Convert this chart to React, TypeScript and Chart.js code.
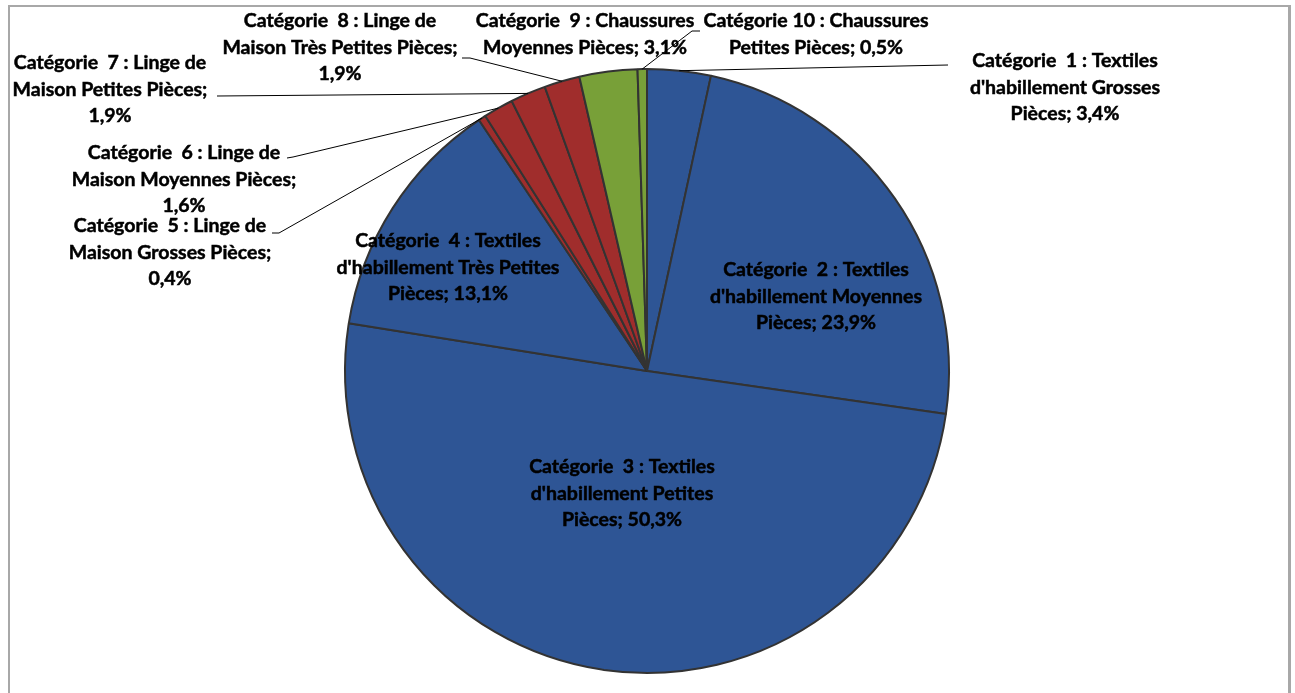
import React, { useEffect, useRef } from "react";
import { Chart, registerables } from "chart.js";

Chart.register(...registerables);

// ---- Data ----
const categories = [
  "Catégorie 1 : Textiles d'habillement Grosses Pièces",
  "Catégorie 2 : Textiles d'habillement Moyennes Pièces",
  "Catégorie 3 : Textiles d'habillement Petites Pièces",
  "Catégorie 4 : Textiles d'habillement Très Petites Pièces",
  "Catégorie 5 : Linge de Maison Grosses Pièces",
  "Catégorie 6 : Linge de Maison Moyennes Pièces",
  "Catégorie 7 : Linge de Maison Petites Pièces",
  "Catégorie 8 : Linge de Maison Très Petites Pièces",
  "Catégorie 9 : Chaussures Moyennes Pièces",
  "Catégorie 10 : Chaussures Petites Pièces",
];
const values = [3.4, 23.9, 50.3, 13.1, 0.4, 1.6, 1.9, 1.9, 3.1, 0.5];

// label text, broken into lines as in the reference ({p} = percentage)
const labelLines = [
  ["Catégorie  1 : Textiles", "d'habillement Grosses", "Pièces; {p}"],
  ["Catégorie  2 : Textiles", "d'habillement Moyennes", "Pièces; {p}"],
  ["Catégorie  3 : Textiles", "d'habillement Petites", "Pièces; {p}"],
  ["Catégorie  4 : Textiles", "d'habillement Très Petites", "Pièces; {p}"],
  ["Catégorie  5 : Linge de", "Maison Grosses Pièces;", "{p}"],
  ["Catégorie  6 : Linge de", "Maison Moyennes Pièces;", "{p}"],
  ["Catégorie  7 : Linge de", "Maison Petites Pièces;", "{p}"],
  ["Catégorie  8 : Linge de", "Maison Très Petites Pièces;", "{p}"],
  ["Catégorie  9 : Chaussures", "Moyennes Pièces; {p}"],
  ["Catégorie 10 : Chaussures", "Petites Pièces; {p}"],
];

// ---- Layout / style (page pixel coordinates) ----
const BLUE = "#2E5595";
const RED = "#A02D2C";
const GREEN = "#78A038";
const sliceColors = [BLUE, BLUE, BLUE, BLUE, RED, RED, RED, RED, GREEN, GREEN];

// label centre x and first-line centre y
const labelPos = [
  [1065, 61],
  [816, 270],
  [622, 467],
  [448, 241],
  [170, 226],
  [184, 153],
  [110, 63],
  [340, 21],
  [585, 21],
  [816, 21],
];
// leader line points from the label side (then joined to the slice edge)
const leaders: (number[][] | null)[] = [
  [[948, 65]],
  null,
  null,
  null,
  [[272, 233], [279, 233]],
  [[287, 158], [293, 157]],
  [[217, 96]],
  [[462, 58], [470, 58]],
  null,
  [[700, 31], [692, 31]],
];
const LINE_H = 26.5;
const FONT = "bold 19.5px Lato";

const fmt = (v: number) => v.toFixed(1).replace(".", ",") + "%";

const labelPlugin = {
  id: "labelPlugin",
  afterDatasetsDraw(chart: any) {
    const ctx = chart.ctx;
    const meta = chart.getDatasetMeta(0);
    ctx.save();
    // leader lines
    ctx.strokeStyle = "#000";
    ctx.lineWidth = 1;
    meta.data.forEach((arc: any, i: number) => {
      const pts = leaders[i];
      if (!pts) return;
      const mid = (arc.startAngle + arc.endAngle) / 2;
      const ex = arc.x + Math.cos(mid) * arc.outerRadius;
      const ey = arc.y + Math.sin(mid) * arc.outerRadius;
      ctx.beginPath();
      ctx.moveTo(pts[0][0], pts[0][1]);
      for (let k = 1; k < pts.length; k++) ctx.lineTo(pts[k][0], pts[k][1]);
      ctx.lineTo(ex, ey);
      ctx.stroke();
    });
    // labels
    ctx.font = FONT;
    ctx.fillStyle = "#000";
    ctx.strokeStyle = "#000";
    ctx.lineWidth = 0.5;
    ctx.textAlign = "center";
    ctx.textBaseline = "middle";
    labelLines.forEach((lines, i) => {
      const [cx, cy] = labelPos[i];
      lines.forEach((t, k) => {
        const s = t.replace("{p}", fmt(values[i]));
        ctx.fillText(s, cx, cy + k * LINE_H);
        ctx.strokeText(s, cx, cy + k * LINE_H);
      });
    });
    ctx.restore();
  },
};

export default function App() {
  const ref = useRef<HTMLCanvasElement | null>(null);
  useEffect(() => {
    if (!ref.current) return;
    const chart = new Chart(ref.current, {
      type: "pie",
      data: {
        labels: categories,
        datasets: [
          {
            data: values,
            backgroundColor: sliceColors,
            borderColor: "#333333",
            borderWidth: 2,
            hoverOffset: 0,
          },
        ],
      },
      options: {
        responsive: false,
        animation: false,
        devicePixelRatio: 1,
        radius: 302,
        layout: { padding: { left: 345, right: 346, top: 69, bottom: 20 } },
        plugins: {
          legend: { display: false },
          tooltip: { enabled: false },
        },
        events: [],
      } as any,
      plugins: [labelPlugin],
    });
    return () => chart.destroy();
  }, []);

  return (
    <div style={{ position: "fixed", left: 0, top: 0, width: 1295, height: 693, background: "#fff" }}>
      <div
        style={{
          position: "absolute",
          left: 8,
          top: 5,
          width: 1283,
          height: 710,
          borderTop: "2px solid #A8A8A8",
          borderLeft: "2px solid #A8A8A8",
          borderRight: "3px solid #A8A8A8",
          borderBottom: "2px solid #A8A8A8",
          boxSizing: "border-box",
        }}
      />
      <canvas
        ref={ref}
        width={1295}
        height={693}
        style={{ position: "absolute", left: 0, top: 0, width: 1295, height: 693 }}
      />
    </div>
  );
}
